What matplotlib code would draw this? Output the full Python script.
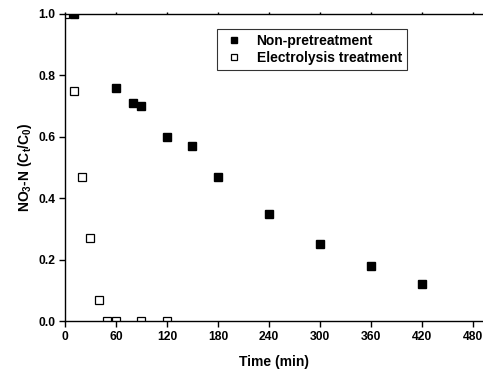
import numpy as np
import matplotlib.pyplot as plt

plt.rcParams['font.family'] = ['Liberation Sans', 'DejaVu Sans']
plt.rcParams['font.weight'] = 'bold'
plt.rcParams['mathtext.fontset'] = 'custom'
plt.rcParams['mathtext.rm'] = 'Liberation Sans:bold'
plt.rcParams['mathtext.it'] = 'Liberation Sans:bold'
plt.rcParams['mathtext.bf'] = 'Liberation Sans:bold'

t_non = [10, 60, 80, 90, 120, 150, 180, 240, 300, 360, 420]
c_non = [1.0, 0.76, 0.71, 0.70, 0.60, 0.57, 0.47, 0.35, 0.25, 0.18, 0.12]
t_ele = [0, 10, 20, 30, 40, 50, 60, 90, 120]
c_ele = [1.0, 0.75, 0.47, 0.27, 0.07, 0.0, 0.0, 0.0, 0.0]

fig = plt.figure(figsize=(4.83, 3.74), dpi=100)
ax = fig.add_axes([0.1346, 0.1417, 0.8654, 0.8209])

ax.plot(t_non, c_non, 's', color='black', markersize=5.2,
        label='Non-pretreatment', clip_on=True)
ax.plot(t_ele, c_ele, 's', markerfacecolor='white', markeredgecolor='black',
        markeredgewidth=0.9, markersize=5.2, label='Electrolysis treatment',
        clip_on=True)

ax.set_xlim(0, 492)
ax.set_ylim(0, 1.0)
ax.set_xticks(np.arange(0, 481, 60))
ax.set_yticks(np.arange(0, 1.01, 0.2))
ax.set_yticklabels(['%.1f' % v for v in np.arange(0, 1.01, 0.2)])
ax.tick_params(axis='both', direction='out', length=4, width=1,
               labelsize=8.7, pad=3)
ax.tick_params(axis='x', top=True, labeltop=False)
for tk in ax.xaxis.get_major_ticks():
    tk.tick2line.set_markersize(1.5)
ax.spines['right'].set_visible(False)
for s in ['left', 'bottom', 'top']:
    ax.spines[s].set_linewidth(1)

ax.set_xlabel('Time (min)', fontsize=10, fontweight='bold', labelpad=9)
ax.set_ylabel('NO$_3$-N (C$_t$/C$_0$)', fontsize=10, fontweight='bold',
              labelpad=3)

leg = ax.legend(loc='upper left', bbox_to_anchor=(0.347, 0.974), fontsize=10,
                frameon=True, fancybox=False, edgecolor='black',
                handletextpad=0.7, borderpad=0.35, labelspacing=0.25,
                handlelength=1.8, markerscale=0.8)
leg.get_frame().set_linewidth(0.8)

fig.savefig('out.png', dpi=100)
